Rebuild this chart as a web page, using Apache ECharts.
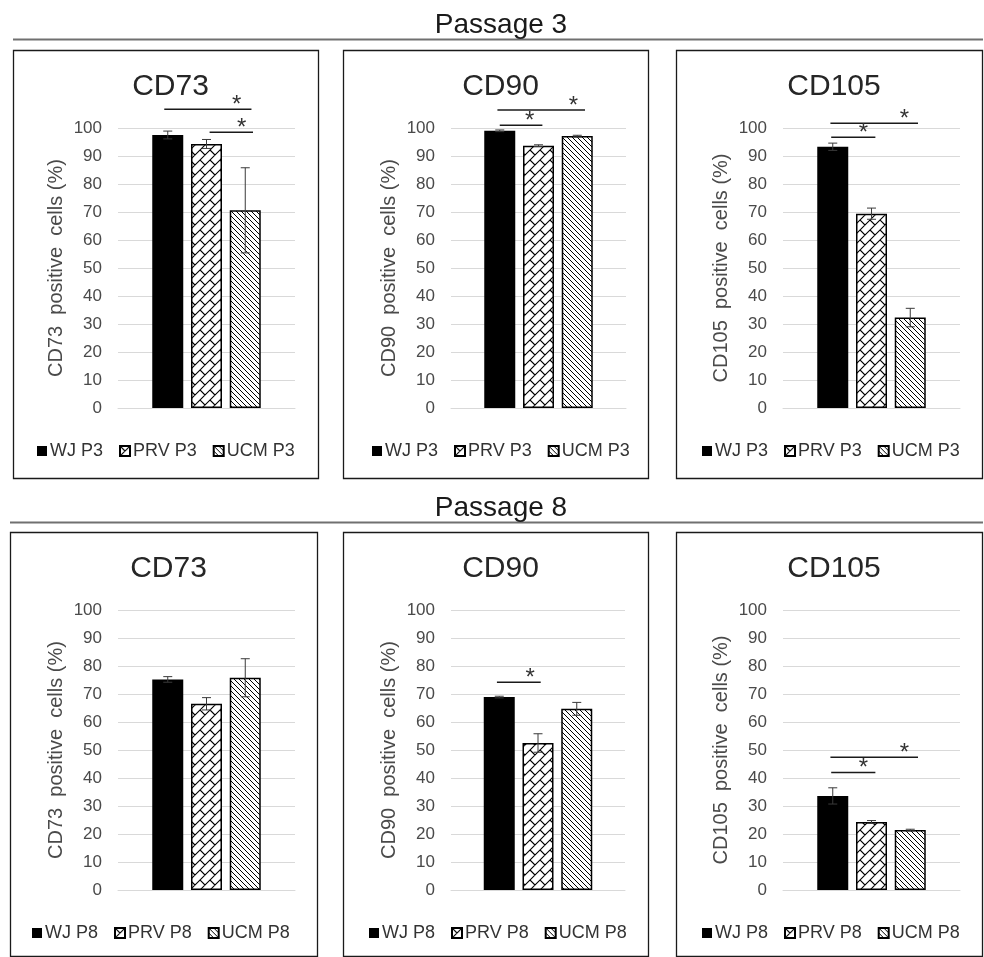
<!DOCTYPE html>
<html>
<head>
<meta charset="utf-8">
<script src="https://cdn.jsdelivr.net/npm/echarts@6/dist/echarts.min.js"></script>
<style>
  html, body { margin: 0; padding: 0; background: #fff; }
  #chart { width: 984px; height: 957px; }
</style>
</head>
<body>
<div id="chart"></div>
<script>
// groups / legend entries
const groupsP3 = ['WJ P3', 'PRV P3', 'UCM P3'];
const groupsP8 = ['WJ P8', 'PRV P8', 'UCM P8'];
const markers = ['CD73', 'CD90', 'CD105'];
const passages = ['Passage 3', 'Passage 8'];

// means (%) in order WJ, PRV, UCM and their error bars
const p3CD73 = [97.5, 94.3, 70.6];
const p3CD73Err = [1.4, 1.6, 15.2];
const p3CD90 = [99.0, 93.7, 97.1];
const p3CD90Err = [0.3, 0.3, 0.3];
const p3CD105 = [93.3, 69.4, 32.3];
const p3CD105Err = [1.3, 2.0, 3.3];
const p8CD73 = [75.2, 66.5, 75.8];
const p8CD73Err = [1.0, 2.2, 6.8];
const p8CD90 = [68.9, 52.5, 64.7];
const p8CD90Err = [0.3, 3.3, 2.3];
const p8CD105 = [33.6, 24.3, 21.4];
const p8CD105Err = [2.9, 0.5, 0.3];

// significance bars: [from, to, level, star position], from/to in bar units (0 = WJ, 1 = PRV, 2 = UCM)
const p3CD73Sig = [[-0.09, 2.16, 106.7, 1.78], [1.08, 2.2, 98.5, 1.91]];
const p3CD90Sig = [[-0.06, 2.2, 106.4, 1.9], [0, 1.1, 101, 0.77]];
const p3CD105Sig = [[-0.06, 2.2, 101.7, 1.85], [-0.04, 1.1, 96.7, 0.79]];
const p8CD73Sig = [];
const p8CD90Sig = [[-0.06, 1.07, 74.2, 0.8]];
const p8CD105Sig = [[-0.06, 2.2, 47.4, 1.85], [-0.04, 1.1, 42, 0.79]];

const FONT = '"Liberation Sans", Arial, sans-serif';
const BAR_W = 31;
const STEP = BAR_W * 1.25;

// hatch tiles
function brickTile() {
  const s = 20, c = document.createElement('canvas');
  c.width = c.height = s;
  const g = c.getContext('2d');
  g.fillStyle = '#fff';
  g.fillRect(0, 0, s, s);
  g.strokeStyle = '#000';
  g.lineWidth = 1.1;
  g.beginPath();
  for (let k = -1; k <= 5; k++) {
    g.moveTo(10 * k + 10, -10);
    g.lineTo(-10, 10 * k + 10);
  }
  for (let k = -3; k <= 5; k++) {
    const odd = ((k % 2) + 2) % 2;
    for (let m = -3; m <= 3; m++) {
      const t = 20 * m + (odd ? 10 : 0);
      const a = (10 * k + t) / 2, b = (10 * k - t) / 2;
      g.moveTo(a, b);
      g.lineTo(a + 5, b + 5);
    }
  }
  g.stroke();
  return c;
}
function diagTile() {
  const s = 5, c = document.createElement('canvas');
  c.width = c.height = s;
  const g = c.getContext('2d');
  g.fillStyle = '#fff';
  g.fillRect(0, 0, s, s);
  g.strokeStyle = '#000';
  g.lineWidth = 1;
  g.beginPath();
  for (let k = -1; k <= 1; k++) {
    g.moveTo(k * s - 1, -1);
    g.lineTo(k * s + s + 1, s + 1);
  }
  g.stroke();
  return c;
}
const fills = [
  '#000',
  { image: brickTile(), repeat: 'repeat' },
  { image: diagTile(), repeat: 'repeat' }
];

const panels = [
  { row: 0, col: 0, name: markers[0], groups: groupsP3, mean: p3CD73, err: p3CD73Err, sig: p3CD73Sig },
  { row: 0, col: 1, name: markers[1], groups: groupsP3, mean: p3CD90, err: p3CD90Err, sig: p3CD90Sig },
  { row: 0, col: 2, name: markers[2], groups: groupsP3, mean: p3CD105, err: p3CD105Err, sig: p3CD105Sig },
  { row: 1, col: 0, name: markers[0], groups: groupsP8, mean: p8CD73, err: p8CD73Err, sig: p8CD73Sig },
  { row: 1, col: 1, name: markers[1], groups: groupsP8, mean: p8CD90, err: p8CD90Err, sig: p8CD90Sig },
  { row: 1, col: 2, name: markers[2], groups: groupsP8, mean: p8CD105, err: p8CD105Err, sig: p8CD105Sig }
];

// layout
const boxX = [[[13, 318], [343, 648], [676, 982]], [[10, 317], [343, 648], [676, 982]]];
const boxTop = [50, 532];
const boxH = [428, 424];
const gridLeft = [[118, 451, 783], [118, 451, 783]];
const gridWidth = [[177, 175, 177], [177, 174, 177]];
const gridTop = [128, 610];
const gridH = 280;
const legendLeft = [[37, 372, 702], [32, 369, 702]];

function renderErr(params, api) {
  const cat = api.value(0), m = api.value(1), e = api.value(2);
  const c = api.coord([cat, m]);
  const hi = api.coord([cat, m + e]);
  const lo = api.coord([cat, m - e]);
  const x = c[0] + (api.value(3) - 1) * STEP;
  const st = { stroke: '#3a3a3a', lineWidth: 1 };
  return {
    type: 'group',
    children: [
      { type: 'line', shape: { x1: x, y1: hi[1], x2: x, y2: lo[1] }, style: st },
      { type: 'line', shape: { x1: x - 4.5, y1: hi[1], x2: x + 4.5, y2: hi[1] }, style: st },
      { type: 'line', shape: { x1: x - 4.5, y1: lo[1], x2: x + 4.5, y2: lo[1] }, style: st }
    ]
  };
}

function renderSig(params, api) {
  const base = api.coord([api.value(0), api.value(1)]);
  const x1 = base[0] + (api.value(2) - 1) * STEP;
  const x2 = base[0] + (api.value(3) - 1) * STEP;
  const xs = base[0] + (api.value(4) - 1) * STEP;
  return {
    type: 'group',
    children: [
      { type: 'line', shape: { x1: x1, y1: base[1], x2: x2, y2: base[1] }, style: { stroke: '#1a1a1a', lineWidth: 1.5 } },
      { type: 'text', x: xs, y: base[1] - 4, style: { text: '*', font: '24px ' + FONT, fill: '#333', align: 'center', verticalAlign: 'middle' } }
    ]
  };
}

const titles = [], grids = [], xAxes = [], yAxes = [], legends = [], series = [], graphics = [];

passages.forEach((p, r) => {
  titles.push({
    text: p, left: 496, top: r === 0 ? 6 : 489, textAlign: 'center',
    textStyle: { fontFamily: FONT, fontSize: 28, fontWeight: 'normal', color: '#1a1a1a' }
  });
  graphics.push({
    type: 'line', shape: { x1: boxX[r][0][0], y1: r === 0 ? 39.5 : 522.5, x2: 983, y2: r === 0 ? 39.5 : 522.5 },
    style: { stroke: '#707070', lineWidth: 2 }
  });
});

panels.forEach((pn, i) => {
  const r = pn.row, c = pn.col;
  const bx = boxX[r][c];
  graphics.push({
    type: 'rect', shape: { x: bx[0] + 0.5, y: boxTop[r] + 0.5, width: bx[1] - bx[0], height: boxH[r] },
    style: { fill: null, stroke: '#1a1a1a', lineWidth: 1.3 }
  });
  titles.push({
    text: pn.name, left: (bx[0] + bx[1]) / 2, top: boxTop[r] + 17, textAlign: 'center',
    textStyle: { fontFamily: FONT, fontSize: 30, fontWeight: 'normal', color: '#262626' }
  });
  grids.push({
    left: gridLeft[r][c], top: gridTop[r], width: gridWidth[r][c], height: gridH,
    containLabel: false, outerBoundsMode: 'none'
  });
  xAxes.push({
    gridIndex: i, type: 'category', data: [''],
    axisLine: { show: true, lineStyle: { color: '#d9d9d9', width: 1 } },
    axisTick: { show: false }, axisLabel: { show: false }
  });
  yAxes.push({
    gridIndex: i, type: 'value', min: 0, max: 100, interval: 10,
    name: pn.name + '  positive  cells (%)', nameLocation: 'middle', nameGap: 52,
    nameTextStyle: { fontFamily: FONT, fontSize: 20, color: '#4a4a4a' },
    axisLine: { show: false }, axisTick: { show: false },
    axisLabel: { fontFamily: FONT, fontSize: 17, color: '#4a4a4a', margin: 16 },
    splitLine: { lineStyle: { color: '#d9d9d9', width: 1 } }
  });
  legends.push({
    data: pn.groups, left: legendLeft[r][c], top: boxTop[r] + 392, orient: 'horizontal',
    itemWidth: 10, itemHeight: 10, itemGap: 16, padding: 0, selectedMode: false,
    icon: 'rect',
    textStyle: { fontFamily: FONT, fontSize: 18, color: '#333', padding: [0, 0, 0, -2] }
  });
  pn.groups.forEach((g, k) => {
    series.push({
      type: 'bar', name: g, xAxisIndex: i, yAxisIndex: i,
      barWidth: BAR_W, barGap: '25%',
      itemStyle: { color: fills[k], borderColor: '#000', borderWidth: k === 0 ? 0 : 1.5 },
      emphasis: { disabled: true },
      data: [pn.mean[k]]
    });
  });
  series.push({
    type: 'custom', xAxisIndex: i, yAxisIndex: i, z: 5, silent: true,
    renderItem: renderErr, encode: { x: 0, y: 1 },
    data: pn.mean.map((m, k) => [0, m, pn.err[k], k])
  });
  if (pn.sig.length) {
    series.push({
      type: 'custom', xAxisIndex: i, yAxisIndex: i, z: 6, silent: true, clip: false,
      renderItem: renderSig, encode: { x: 0, y: 1 },
      data: pn.sig.map(s => [0, s[2], s[0], s[1], s[3]])
    });
  }
});

const chart = echarts.init(document.getElementById('chart'));
chart.setOption({
  backgroundColor: '#fff',
  animation: false,
  title: titles,
  grid: grids,
  xAxis: xAxes,
  yAxis: yAxes,
  legend: legends,
  series: series,
  graphic: graphics
});
</script>
</body>
</html>
